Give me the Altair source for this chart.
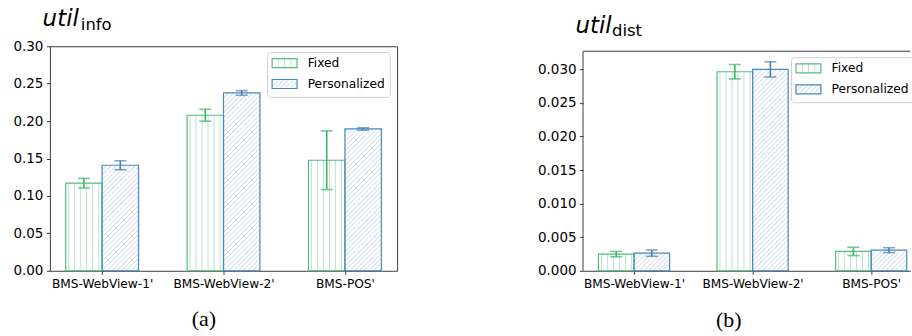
import json
import altair as alt
import pandas as pd

# ---------------- data ----------------
categories = ["BMS-WebView-1'", "BMS-WebView-2'", "BMS-POS'"]
methods = ["Fixed", "Personalized"]

info_fixed = [0.1170, 0.2078, 0.1477]
info_fixed_err = [0.0065, 0.0080, 0.0392]
info_pers = [0.1410, 0.2376, 0.1895]
info_pers_err = [0.0060, 0.0031, 0.0016]

dist_fixed = [0.00248, 0.02965, 0.00288]
dist_fixed_err = [0.00040, 0.00107, 0.00062]
dist_pers = [0.00263, 0.03000, 0.00307]
dist_pers_err = [0.00047, 0.00114, 0.00037]

info_ticks = [0, 0.05, 0.10, 0.15, 0.20, 0.25, 0.30]
dist_ticks = [0, 0.005, 0.010, 0.015, 0.020, 0.025, 0.030]

title_main = ["util", "util"]
title_sub = ["info", "dist"]
captions = ["(a)", "(b)"]

# ---------------- style ----------------
BAR_W = 0.3
EDGE = ["#54be7d", "#4a86c1"]
ERR = ["#3cb464", "#4682b4"]
HATCH = ["#b4e1c8", "#bed2eb"]
FRAME = "#3d3d3d"
FONT = "DejaVu Sans"
V_SP = 6.0     # px spacing of vertical hatch
D_SP = 4.8     # px spacing of diagonal hatch

SYM_SIZE = 81            # 9 px tall swatch
SYM_K = 12.5 / 4.5       # path units -> half-width 12.5 px


def seg_path(segs):
    out = []
    for (x1, y1, x2, y2) in segs:
        out.append(f"M{x1 * SYM_K:.3f},{y1 / 0.36:.3f}L{x2 * SYM_K:.3f},{y2 / 0.36:.3f}")
    return "".join(out)


RECT_PATH = f"M{-SYM_K:.3f},-1L{SYM_K:.3f},-1L{SYM_K:.3f},1L{-SYM_K:.3f},1Z"
PATH_V = seg_path([(-0.5, -0.36, -0.5, 0.36), (0, -0.36, 0, 0.36), (0.5, -0.36, 0.5, 0.36)])
PATH_D = seg_path([(-1, -0.14, -0.78, -0.36), (-1, 0.26, -0.38, -0.36), (-0.7, 0.36, 0.02, -0.36),
                   (-0.3, 0.36, 0.42, -0.36), (0.1, 0.36, 0.82, -0.36), (0.5, 0.36, 1, -0.14),
                   (0.9, 0.36, 1, 0.26)])


def make_panel(vf, ef, vp, ep, yticks, yfmt, ymax, frame_top, width, height,
               xdom, legend_xy, main_xy, sub_xy, cap_xy, main, sub, cap, full_frame):
    rows = []
    for i, cat in enumerate(categories):
        for m, vals, errs in ((methods[0], vf, ef), (methods[1], vp, ep)):
            x0 = i - BAR_W if m == methods[0] else i
            v, e = vals[i], errs[i]
            rows.append(dict(cat=cat, method=m, x0=x0, x1=x0 + BAR_W,
                             xc=x0 + BAR_W / 2, value=v, lo=v - e, hi=v + e))
    df = pd.DataFrame(rows)

    ppx = width / (xdom[1] - xdom[0])
    ppy = height / ymax
    wpx = BAR_W * ppx
    hrows = []
    for r in rows:
        hpx = r["value"] * ppy
        if r["method"] == methods[0]:
            k = 0
            while (k + 0.5) * V_SP < wpx:
                xx = r["x0"] + (k + 0.5) * V_SP / ppx
                hrows.append(dict(hatch=r["method"], x=xx, x2=xx, y=0.0, y2=r["value"]))
                k += 1
        else:
            k = -int(hpx // D_SP) - 1
            while k * D_SP < wpx:
                c = k * D_SP
                ylo = max(0.0, -c)
                yhi = min(hpx, wpx - c)
                if yhi - ylo > 0.3:
                    hrows.append(dict(hatch=r["method"],
                                      x=r["x0"] + (c + ylo) / ppx,
                                      x2=r["x0"] + (c + yhi) / ppx,
                                      y=ylo / ppy, y2=yhi / ppy))
                k += 1
    hdf = pd.DataFrame(hrows)

    xsc = alt.Scale(domain=list(xdom), nice=False, zero=False)
    ysc = alt.Scale(domain=[0, ymax], nice=False, zero=False)
    yaxis = alt.Axis(values=yticks, format=yfmt, title=None, grid=False, domain=False,
                     labelFont=FONT, labelFontSize=13.5, labelColor="black",
                     tickColor="black", tickWidth=0.8, tickSize=3.5, labelPadding=3.5)
    xaxis = alt.Axis(values=[0, 1, 2], labelExpr=json.dumps(categories) + "[datum.value]",
                     title=None, grid=False, domain=not full_frame, domainColor=FRAME,
                     domainWidth=1, labelFont=FONT, labelFontSize=12.2, labelColor="black",
                     tickColor="black", tickWidth=0.8, tickSize=3.5, labelPadding=3.5,
                     labelFlush=False, labelOverlap=False)

    leg_common = dict(title=None, orient="none", legendX=legend_xy[0], legendY=legend_xy[1],
                      symbolSize=SYM_SIZE, symbolOffset=6.4, labelFont=FONT, labelFontSize=12.25,
                      labelOffset=17, padding=5, rowPadding=6)
    legend1 = alt.Legend(symbolType=RECT_PATH, symbolStrokeWidth=1.2,
                         symbolFillColor="transparent", labelColor="black",
                         strokeColor="#cfcfcf", cornerRadius=3, **leg_common)
    legend2 = alt.Legend(symbolType=alt.ExprRef(
                             expr=f"datum.value === '{methods[0]}' ? '{PATH_V}' : '{PATH_D}'"),
                         symbolStrokeWidth=1, labelColor="transparent", **leg_common)

    hatch = alt.Chart(hdf).mark_rule(strokeWidth=0.9).encode(
        x=alt.X("x:Q", scale=xsc, axis=xaxis), x2="x2:Q",
        y=alt.Y("y:Q", scale=ysc, axis=yaxis), y2="y2:Q",
        color=alt.Color("hatch:N", scale=alt.Scale(range=HATCH), legend=legend2),
    )
    bars = alt.Chart(df).mark_rect(fill="transparent", strokeWidth=1.2).encode(
        x=alt.X("x0:Q", scale=xsc, axis=xaxis), x2="x1:Q",
        y=alt.Y("value:Q", scale=ysc, axis=yaxis), y2=alt.Y2Datum(0),
        stroke=alt.Stroke("method:N", scale=alt.Scale(range=EDGE), legend=legend1),
    )
    errcol = alt.condition(f"datum.method === '{methods[0]}'", alt.value(ERR[0]), alt.value(ERR[1]))
    err = alt.Chart(df).mark_rule(strokeWidth=1.6).encode(
        x=alt.X("xc:Q", scale=xsc, axis=xaxis),
        y=alt.Y("lo:Q", scale=ysc, axis=yaxis), y2="hi:Q", color=errcol)
    cap_lo = alt.Chart(df).mark_tick(orient="horizontal", size=12, thickness=1.6).encode(
        x=alt.X("xc:Q", scale=xsc, axis=xaxis), y=alt.Y("lo:Q", scale=ysc, axis=yaxis), color=errcol)
    cap_hi = alt.Chart(df).mark_tick(orient="horizontal", size=12, thickness=1.6).encode(
        x=alt.X("xc:Q", scale=xsc, axis=xaxis), y=alt.Y("hi:Q", scale=ysc, axis=yaxis), color=errcol)

    layers = [hatch, bars, err, cap_lo, cap_hi]

    one = alt.Data(values=[{"main": main, "sub": sub, "cap": cap}])
    if not full_frame:
        top = alt.Chart(one).mark_rule(color=FRAME, strokeWidth=1).encode(
            y=alt.YDatum(frame_top, scale=ysc, axis=yaxis))
        left = alt.Chart(one).mark_rule(color=FRAME, strokeWidth=1).encode(
            x=alt.XDatum(xdom[0], scale=xsc, axis=xaxis),
            y=alt.YDatum(0, scale=ysc, axis=yaxis), y2=alt.Y2Datum(frame_top))
        layers += [top, left]

    t_main = alt.Chart(one).mark_text(font=FONT, fontStyle="italic", fontSize=23, align="left",
                                      baseline="alphabetic", color="black").encode(
        x=alt.value(main_xy[0]), y=alt.value(main_xy[1]), text="main:N")
    t_sub = alt.Chart(one).mark_text(font=FONT, fontSize=16.5, align="left",
                                     baseline="alphabetic", color="black").encode(
        x=alt.value(sub_xy[0]), y=alt.value(sub_xy[1]), text="sub:N")
    t_cap = alt.Chart(one).mark_text(font="Liberation Serif", fontSize=22, align="center",
                                     baseline="alphabetic", color="black").encode(
        x=alt.value(cap_xy[0]), y=alt.value(cap_xy[1]), text="cap:N")
    layers += [t_main, t_sub, t_cap]

    view = alt.ViewBackground(stroke=FRAME if full_frame else "transparent", strokeWidth=1)
    return alt.layer(*layers).properties(width=width, height=height, view=view)


panel_a = make_panel(info_fixed, info_fixed_err, info_pers, info_pers_err,
                     info_ticks, ".2f", 0.30, 0.30, 348, 225, (-0.43, 2.43),
                     (217.7, 5.7), (-7.3, -20), (31, -16.7), (154.3, 280),
                     title_main[0], title_sub[0], captions[0], True)

panel_b = make_panel(dist_fixed, dist_fixed_err, dist_pers, dist_pers_err,
                     dist_ticks, ".3f", 0.0327 * 225 / 220, 0.0327, 328, 225, (-0.43, 2.33),
                     (208.4, 11), (-7.6, -13.3), (29, -10), (146, 281),
                     title_main[1], title_sub[1], captions[1], False)

chart = alt.hconcat(panel_a, panel_b, spacing=186.3, bounds="flush").resolve_scale(
    stroke="independent", color="independent"
).resolve_legend(stroke="independent", color="independent").properties(
    padding={"left": 12, "top": 7, "right": -3, "bottom": 0}
).configure(font=FONT)

chart.save("out.html", embed_options={"renderer": "svg", "actions": False})
